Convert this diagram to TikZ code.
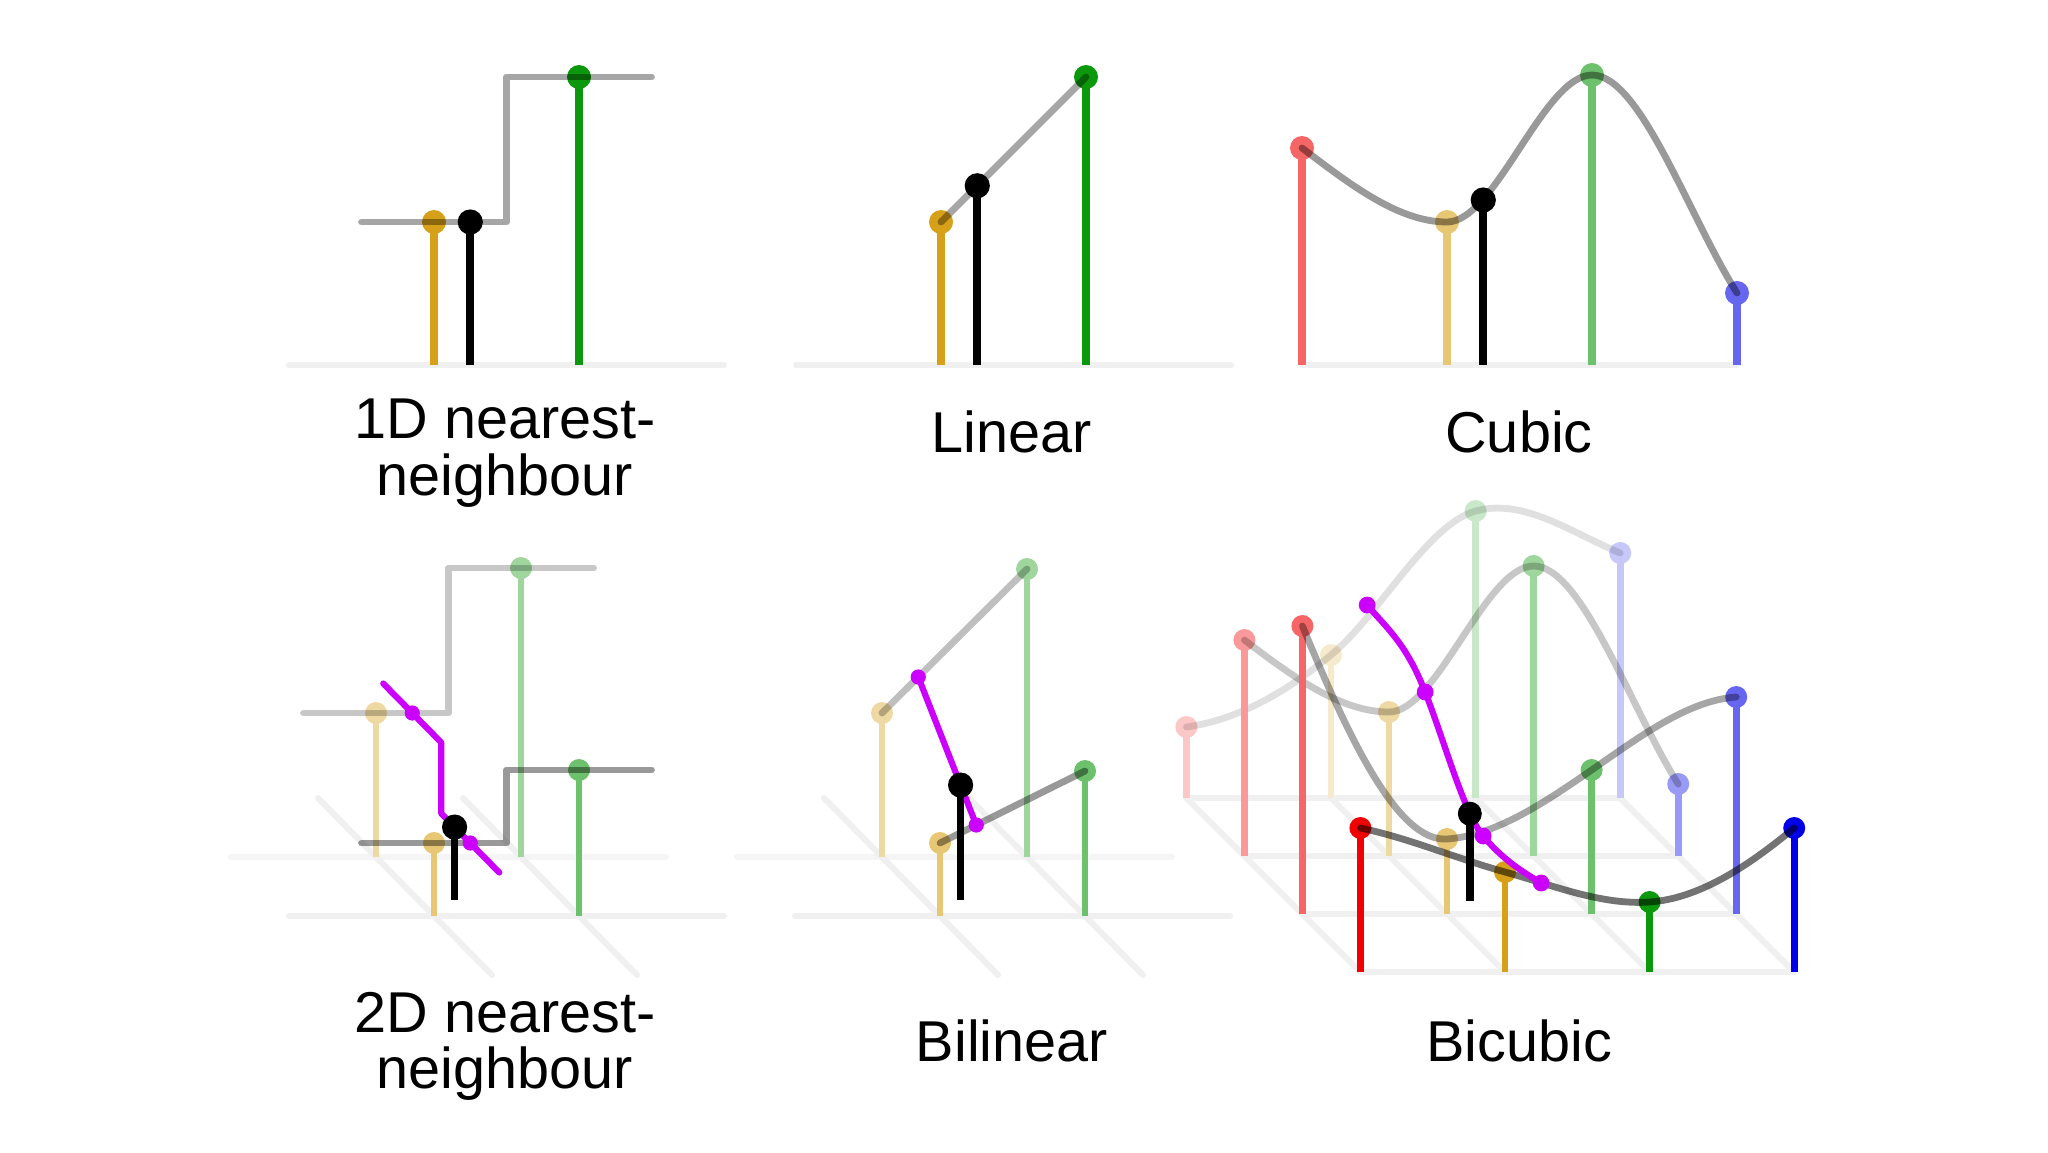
\documentclass[tikz,border=0pt]{standalone}
\usepackage{fontspec}
\setmainfont{Liberation Sans}
\definecolor{cR}{RGB}{240,0,0}
\definecolor{cY}{RGB}{214,160,24}
\definecolor{cG}{RGB}{12,152,12}
\definecolor{cB}{RGB}{0,0,232}
\definecolor{cM}{RGB}{204,0,255}
% #1 dot radius, #2 name, #3 style, #4 index, #5 height, #6 depth
\newcommand\stemdot[6][6pt]{%
  \coordinate (#2b) at (#4,0,#6);
  \coordinate (#2) at (#4,#5,#6);
  \draw[stem,#3] (#2b) -- (#2);
  \fill[#3] (#2) circle[radius=#1];}
% #1 style, #2-#5 heights, #6-#9 slopes
\newcommand\rowcurve[9]{%
  \draw[#1] (-1,#2) .. controls (-2/3,{#2+(#6)/3}) and (-1/3,{#3-(#7)/3}) .. (0,#3)
    .. controls (1/3,{#3+(#7)/3}) and (2/3,{#4-(#8)/3}) .. (1,#4)
    .. controls (4/3,{#4+(#8)/3}) and (5/3,{#5-(#9)/3}) .. (2,#5);}
\begin{document}
\begin{tikzpicture}[x=0.5pt,y=-0.5pt,
  grid/.style={line width=3pt,black!6,line cap=round},
  stem/.style={line width=3.8pt},
  gline/.style={line width=3.4pt,black,line cap=round,line join=round},
  mag/.style={line width=3.1pt,cM,line cap=round,line join=round},
  lbl/.style={anchor=base,inner sep=0pt,font=\fontsize{28.8}{32}\selectfont}]
\fill[white] (0,0) rectangle (2048,1152);
\useasboundingbox (0,0) rectangle (2048,1152);

% ---------- 1D nearest neighbour ----------
\begin{scope}[shift={(434,365)},x={(72.5pt,0pt)},y={(0pt,0.5pt)}]
  \draw[grid] (-1,0) -- (2,0);
  \stemdot{a1}{cY}{0}{143}{0}
  \stemdot{a2}{cG}{1}{288}{0}
  \draw[gline,opacity=.35] (-0.5,143) -- (0.5,143) -- (0.5,288) -- (1.5,288);
  \stemdot[6.3pt]{a0}{black,line width=4.2pt}{0.25}{143}{0}
\end{scope}

% ---------- Linear ----------
\begin{scope}[shift={(941,365)},x={(72.5pt,0pt)},y={(0pt,0.5pt)}]
  \draw[grid] (-1,0) -- (2,0);
  \stemdot{b1}{cY}{0}{143}{0}
  \stemdot{b2}{cG}{1}{288}{0}
  \draw[gline,opacity=.35] (b1) -- (b2);
  \stemdot[6.3pt]{b0}{black,line width=4.2pt}{0.25}{179.25}{0}
\end{scope}

% ---------- Cubic ----------
\begin{scope}[shift={(1447,365)},x={(72.5pt,0pt)},y={(0pt,0.5pt)}]
  \draw[grid] (-1,0) -- (2,0);
  \stemdot{c1}{cR!60!white}{-1}{217}{0}
  \stemdot{c2}{cY!60!white}{0}{143}{0}
  \stemdot{c3}{cG!60!white}{1}{290}{0}
  \stemdot{c4}{cB!60!white}{2}{72}{0}
  \rowcurve{gline,opacity=.4}{217}{143}{290}{72}{-110}{0}{0}{-230}
  \stemdot[6.3pt]{c0}{black,line width=4.2pt}{0.25}{165}{0}
\end{scope}

% ---------- 2D nearest neighbour ----------
\begin{scope}[shift={(434,916)},x={(72.5pt,0pt)},y={(0pt,0.5pt)},z={(-29pt,29.5pt)},
  stem/.style={line width=3.3pt}]
  \draw[grid,black!4] (-1,0,1) -- (2,0,1);
  \draw[grid] (-1,0,0) -- (2,0,0);
  \draw[grid] (0,0,-1) -- (0,0,2);
  \draw[grid] (1,0,-1) -- (1,0,2);
  \stemdot[5.5pt]{d1}{cY!40!white}{0}{144}{1}
  \stemdot[5.5pt]{d2}{cG!40!white}{1}{289}{1}
  \draw[gline,opacity=.22] (-0.5,144,1) -- (0.5,144,1) -- (0.5,289,1) -- (1.5,289,1);
  \stemdot[5.5pt]{d3}{cY!60!white}{0}{73}{0}
  \stemdot[5.5pt]{d4}{cG!60!white}{1}{146}{0}
  \draw[gline,opacity=.4] (-0.5,73,0) -- (0.5,73,0) -- (0.5,146,0) -- (1.5,146,0);
  \coordinate (dm1) at (0.25,144,1);
  \coordinate (dm2) at (0.25,73,0);
  \draw[mag] (0.25,144,1.5) -- (dm1) -- (0.25,144,0.5) -- (0.25,73,0.5) -- (dm2) -- (0.25,73,-0.5);
  \fill[cM] (dm1) circle[radius=3.8pt] (dm2) circle[radius=3.8pt];
  \stemdot[6.3pt]{d0}{black,line width=3.8pt}{0.25}{73}{0.27}
\end{scope}

% ---------- Bilinear ----------
\begin{scope}[shift={(940,916)},x={(72.5pt,0pt)},y={(0pt,0.5pt)},z={(-29pt,29.5pt)},
  stem/.style={line width=3.3pt}]
  \draw[grid,black!4] (-1,0,1) -- (2,0,1);
  \draw[grid] (-1,0,0) -- (2,0,0);
  \draw[grid] (0,0,-1) -- (0,0,2);
  \draw[grid] (1,0,-1) -- (1,0,2);
  \stemdot[5.5pt]{e1}{cY!40!white}{0}{144}{1}
  \stemdot[5.5pt]{e2}{cG!40!white}{1}{288}{1}
  \draw[gline,opacity=.25] (e1) -- (e2);
  \stemdot[5.5pt]{e3}{cY!60!white}{0}{73}{0}
  \stemdot[5.5pt]{e4}{cG!60!white}{1}{145}{0}
  \draw[gline,opacity=.4] (e3) -- (e4);
  \coordinate (em1) at (0.25,180,1);
  \coordinate (em2) at (0.25,91,0);
  \draw[mag] (em1) -- (em2);
  \fill[cM] (em1) circle[radius=3.8pt] (em2) circle[radius=3.8pt];
  \stemdot[6.3pt]{e0}{black,line width=3.8pt}{0.25}{115}{0.27}
\end{scope}

% ---------- Bicubic ----------
\begin{scope}[shift={(1505,972)},x={(72.3pt,0pt)},y={(0pt,0.5pt)},z={(-29pt,29pt)},
  stem/.style={line width=3.3pt}]
  \foreach \d in {0,1,2,3} {\draw[grid] (-1,0,\d) -- (2,0,\d);}
  \foreach \i in {-1,0,1,2} {\draw[grid] (\i,0,0) -- (\i,0,3);}
  % depth 3
  \begin{scope}[shift={(0,0,3)}]
    \stemdot[5.5pt]{f31}{cR!22!white}{-1}{71}{0}
    \stemdot[5.5pt]{f32}{cY!22!white}{0}{143}{0}
    \stemdot[5.5pt]{f33}{cG!22!white}{1}{287}{0}
    \stemdot[5.5pt]{f34}{cB!22!white}{2}{245}{0}
    \rowcurve{gline,opacity=.12}{71}{143}{287}{245}{20}{120}{40}{-60}
  \end{scope}
  % depth 2
  \begin{scope}[shift={(0,0,2)}]
    \stemdot[5.5pt]{f21}{cR!40!white}{-1}{216}{0}
    \stemdot[5.5pt]{f22}{cY!40!white}{0}{144}{0}
    \stemdot[5.5pt]{f23}{cG!40!white}{1}{290}{0}
    \stemdot[5.5pt]{f24}{cB!40!white}{2}{72}{0}
    \rowcurve{gline,opacity=.22}{216}{144}{290}{72}{-110}{0}{0}{-230}
  \end{scope}
  % depth 1
  \begin{scope}[shift={(0,0,1)}]
    \stemdot[5.5pt]{f11}{cR!60!white}{-1}{288}{0}
    \stemdot[5.5pt]{f12}{cY!60!white}{0}{75}{0}
    \stemdot[5.5pt]{f13}{cG!60!white}{1}{144}{0}
    \stemdot[5.5pt]{f14}{cB!60!white}{2}{217}{0}
    \rowcurve{gline,opacity=.35}{288}{75}{144}{217}{-350}{10}{100}{10}
  \end{scope}
  % front
  \stemdot[5.5pt]{f01}{cR}{-1}{144}{0}
  \stemdot[5.5pt]{f02}{cY}{0}{100}{0}
  \stemdot[5.5pt]{f03}{cG}{1}{70}{0}
  \stemdot[5.5pt]{f04}{cB}{2}{144}{0}
  \rowcurve{gline,opacity=.55}{144}{100}{70}{144}{-30}{-40}{10}{120}
  % magenta
  \coordinate (fm3) at (0.25,193,3);
  \coordinate (fm2) at (0.25,164,2);
  \coordinate (fm1) at (0.25,78,1);
  \coordinate (fm0) at (0.25,89,0);
  \draw[mag] (fm3) .. controls (0.25,189.3,2.6667) and (0.25,194,2.3333) .. (fm2)
     .. controls (0.25,134,1.6667) and (0.25,82,1.3333) .. (fm1)
     .. controls (0.25,74,0.6667) and (0.25,81.3,0.3333) .. (fm0);
  \fill[cM] (fm3) circle[radius=4.2pt] (fm2) circle[radius=4.2pt] (fm1) circle[radius=4.2pt] (fm0) circle[radius=4.2pt];
  \stemdot[6pt]{f0}{black,line width=3.8pt}{0.25}{87}{1.23}
\end{scope}

% ---------- labels ----------
\node[lbl] (t1a) at (505,438) {1D nearest-};
\node[lbl] (t1b) at (505,495) {neighbour};
\node[lbl] (t2) at (1012,452) {Linear};
\node[lbl] (t3) at (1519,452) {Cubic};
\node[lbl] (t4a) at (505,1032) {2D nearest-};
\node[lbl] (t4b) at (505,1088) {neighbour};
\node[lbl] (t5) at (1012,1061) {Bilinear};
\node[lbl] (t6) at (1519,1061) {Bicubic};
\end{tikzpicture}
\end{document}
